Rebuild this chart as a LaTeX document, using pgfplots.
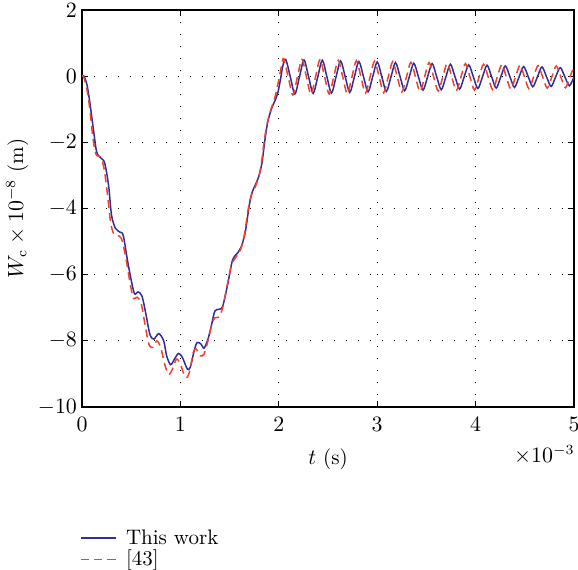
\documentclass[border=0pt]{standalone}
\usepackage{pgfplots}
\pgfplotsset{compat=1.18}
\definecolor{bl}{RGB}{50,45,155}
\definecolor{rd}{RGB}{240,65,45}
\begin{document}
\begin{tikzpicture}
\begin{axis}[
  scale only axis, width=246pt, height=198.5pt,
  xmin=0, xmax=5, ymin=-10, ymax=2,
  xtick={0,1,2,3,4,5}, ytick={-10,-8,-6,-4,-2,0,2},
  tick align=inside, major tick length=3pt,
  tick style={black, line width=0.6pt},
  axis line style={black, line width=1pt},
  grid=major,
  major grid style={black, line width=0.6pt, dash pattern=on 0.6pt off 5.4pt},
  font=\fontsize{10.5}{12.6}\selectfont,
  xticklabel style={yshift=-1.5pt},
  yticklabel style={xshift=1pt},
  xlabel={$t$ (s)},
  ylabel={$W_{\mathrm{c}}\times 10^{-8}$ (m)},
  xlabel style={yshift=-2pt},
  ylabel style={yshift=-2pt},
  legend style={at={([xshift=-4pt,yshift=-57pt]rel axis cs:0,0)}, anchor=north west, draw=none, fill=none, font=\fontsize{10.5}{12.6}\selectfont, row sep=-2.5pt, column sep=3pt},
  legend cell align=left,
]
\addplot[bl, line width=0.75pt, smooth, tension=0.5] coordinates {
(0,0.02)(0.02,0)(0.05,-0.25)(0.08,-0.8)(0.12,-1.7)(0.15,-2.3)(0.19,-2.47)(0.23,-2.62)(0.27,-3.3)(0.30,-4.2)(0.34,-4.6)(0.39,-4.72)(0.42,-4.82)(0.47,-5.7)(0.53,-6.55)(0.57,-6.52)(0.61,-6.65)(0.65,-7.2)(0.69,-7.8)(0.73,-7.95)(0.78,-7.78)(0.83,-8.0)(0.86,-8.45)(0.90,-8.72)(0.94,-8.55)(0.98,-8.38)(1.02,-8.5)(1.07,-8.85)(1.10,-8.8)(1.14,-8.3)(1.17,-8.05)(1.21,-8.1)(1.24,-8.22)(1.28,-7.95)(1.31,-7.6)(1.35,-7.1)(1.39,-7.05)(1.43,-6.95)(1.48,-6.3)(1.53,-5.56)(1.59,-5.31)(1.62,-5.15)(1.66,-4.7)(1.70,-3.9)(1.73,-3.5)(1.77,-3.23)(1.80,-3.0)(1.83,-2.6)(1.86,-1.9)(1.89,-1.35)(1.93,-0.95)(1.96,-0.75)(1.99,-0.5)(2.02,-0.05)(2.04,0.3)
(2.070,0.51)(2.117,-0.02)(2.163,-0.54)(2.210,-0.02)(2.256,0.49)(2.303,-0.02)(2.349,-0.52)(2.396,-0.02)(2.442,0.48)(2.489,-0.02)(2.535,-0.51)(2.582,-0.02)(2.628,0.46)(2.675,-0.02)(2.721,-0.49)(2.768,-0.02)(2.814,0.44)(2.861,-0.02)(2.907,-0.47)(2.954,-0.02)(3.000,0.43)(3.047,-0.02)(3.093,-0.46)(3.140,-0.02)(3.186,0.41)(3.233,-0.02)(3.279,-0.44)(3.326,-0.02)(3.372,0.39)(3.419,-0.02)(3.465,-0.42)(3.512,-0.02)(3.558,0.38)(3.605,-0.02)(3.651,-0.41)(3.698,-0.02)(3.744,0.36)(3.791,-0.02)(3.837,-0.39)(3.884,-0.02)(3.930,0.34)(3.977,-0.02)(4.023,-0.37)(4.070,-0.02)(4.116,0.33)(4.163,-0.02)(4.209,-0.36)(4.256,-0.02)(4.302,0.31)(4.349,-0.02)(4.395,-0.34)(4.442,-0.02)(4.488,0.29)(4.535,-0.02)(4.581,-0.32)(4.628,-0.02)(4.674,0.28)(4.721,-0.02)(4.767,-0.31)(4.814,-0.02)(4.860,0.26)(4.907,-0.02)(4.953,-0.29)(5.000,-0.02)
};
\addlegendentry{This work}
\addplot[rd, line width=0.75pt, dash pattern=on 4pt off 2.5pt, smooth, tension=0.5] coordinates {
(0,0.02)(0.02,-0.05)(0.05,-0.4)(0.08,-1.0)(0.11,-1.85)(0.14,-2.35)(0.17,-2.42)(0.20,-2.5)(0.23,-2.9)(0.26,-3.6)(0.29,-4.4)(0.32,-4.75)(0.36,-4.82)(0.40,-4.9)(0.44,-5.4)(0.48,-6.1)(0.52,-6.7)(0.56,-6.68)(0.60,-6.85)(0.64,-7.5)(0.68,-8.1)(0.72,-8.2)(0.76,-8.0)(0.80,-8.2)(0.84,-8.7)(0.88,-9.02)(0.92,-8.85)(0.96,-8.55)(1.00,-8.7)(1.04,-9.05)(1.07,-9.1)(1.10,-8.85)(1.13,-8.35)(1.16,-8.25)(1.20,-8.45)(1.24,-8.4)(1.28,-8.0)(1.32,-7.5)(1.35,-7.3)(1.39,-7.28)(1.43,-7.0)(1.47,-6.4)(1.52,-5.7)(1.57,-5.45)(1.61,-5.25)(1.65,-4.8)(1.69,-4.0)(1.72,-3.6)(1.76,-3.35)(1.79,-3.1)(1.82,-2.7)(1.85,-2.0)(1.88,-1.45)(1.92,-1.0)(1.95,-0.75)(1.98,-0.4)(2.01,0.05)(2.03,0.35)
(2.050,0.53)(2.096,-0.025)(2.143,-0.57)(2.189,-0.025)(2.235,0.51)(2.281,-0.025)(2.327,-0.55)(2.373,-0.025)(2.419,0.50)(2.466,-0.025)(2.512,-0.54)(2.558,-0.025)(2.604,0.48)(2.650,-0.025)(2.696,-0.53)(2.743,-0.025)(2.789,0.47)(2.835,-0.025)(2.881,-0.51)(2.927,-0.025)(2.973,0.45)(3.020,-0.025)(3.066,-0.50)(3.112,-0.025)(3.158,0.44)(3.204,-0.025)(3.250,-0.48)(3.297,-0.025)(3.343,0.42)(3.389,-0.025)(3.435,-0.47)(3.481,-0.025)(3.527,0.41)(3.574,-0.025)(3.620,-0.45)(3.666,-0.025)(3.712,0.39)(3.758,-0.025)(3.804,-0.44)(3.851,-0.025)(3.897,0.38)(3.943,-0.025)(3.989,-0.42)(4.035,-0.025)(4.081,0.36)(4.128,-0.025)(4.174,-0.41)(4.220,-0.025)(4.266,0.35)(4.312,-0.025)(4.358,-0.39)(4.405,-0.025)(4.451,0.33)(4.497,-0.025)(4.543,-0.38)(4.589,-0.025)(4.635,0.32)(4.682,-0.025)(4.728,-0.36)(4.774,-0.025)(4.820,0.31)(4.866,-0.025)(4.912,-0.35)(4.958,-0.025)(5.000,0.28)
};
\addlegendentry{[43]}
\end{axis}
\node[anchor=east, font=\fontsize{10.5}{12.6}\selectfont, inner sep=0pt] at ([yshift=-24pt,xshift=0.5pt]current axis.south east) {$\times 10^{-3}$};
\pgfresetboundingbox
\path ([xshift=-41pt,yshift=-81pt]current axis.south west) rectangle ([xshift=2pt,yshift=5pt]current axis.north east);
\end{tikzpicture}
\end{document}
